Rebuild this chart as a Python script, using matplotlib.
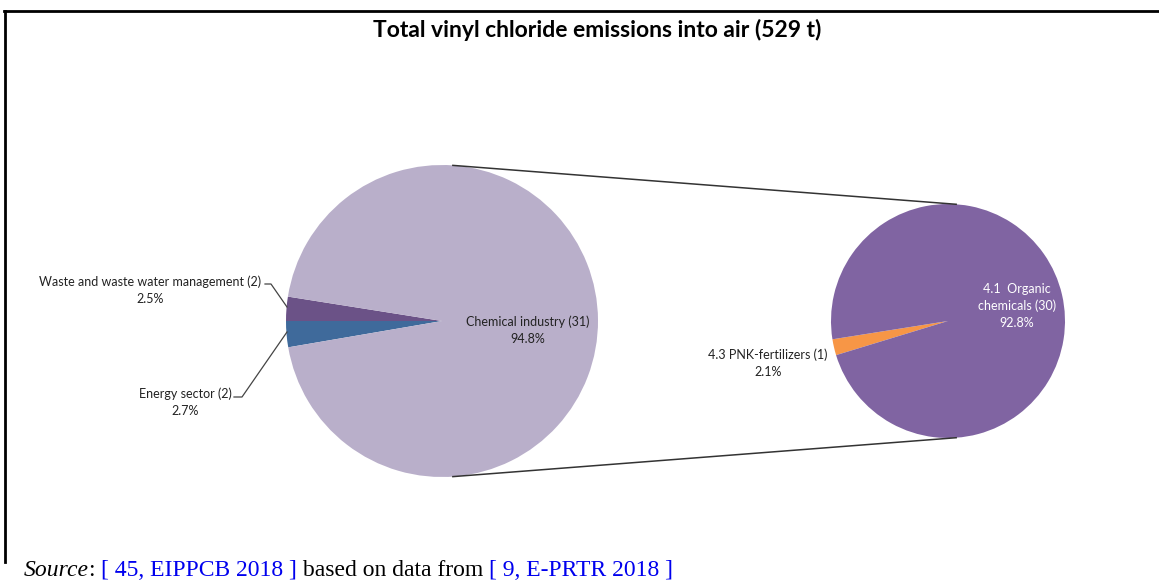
import numpy as np
import matplotlib.pyplot as plt
from matplotlib.lines import Line2D

plt.rcParams['font.family'] = ['Lato', 'DejaVu Sans']

# left pie: total emissions by sector (share of 529 t)
left_labels = ["Waste and waste water management (2)", "Energy sector (2)", "Chemical industry (31)"]
left_pct = [2.5, 2.7, 94.8]
left_colors = ["#6B5287", "#3F6A9B", "#B9AFCA"]

# right pie: breakdown of chemical industry
right_labels = ["4.3 PNK-fertilizers (1)", "4.1  Organic\nchemicals (30)"]
right_pct = [2.1, 92.8]
right_colors = ["#F79646", "#8064A2"]

W, H = 1159, 582
fig = plt.figure(figsize=(W / 100, H / 100), dpi=100)
ax = fig.add_axes([0, 0, 1, 1])

lc, lr = (442, 261), 156
rc, rr = (948, 261), 117

ax.pie(left_pct, colors=left_colors, startangle=171, counterclock=True,
       center=lc, radius=lr, wedgeprops=dict(linewidth=0), frame=True)
ax.pie(right_pct, colors=right_colors, startangle=189, counterclock=True,
       center=rc, radius=rr, wedgeprops=dict(linewidth=0), frame=True)
ax.set_xlim(0, W); ax.set_ylim(0, H)
ax.set_aspect("equal"); ax.axis("off")

# connector lines between the pies
for a in (86, -86):
    t = np.radians(a)
    ax.plot([lc[0] + lr*np.cos(t), rc[0] + rr*np.cos(t)],
            [lc[1] + lr*np.sin(t), rc[1] + rr*np.sin(t)], color="#333333", lw=1.1)

fs = 9
ax.text(150, H - 290, left_labels[0] + "\n" + f"{left_pct[0]}%", ha="center", va="center",
        fontsize=fs, color="#222222", linespacing=1.45)
ax.plot([265, 271, 287], [H - 284, H - 284, H - 307], color="#444444", lw=0.9)
ax.text(185, H - 402, left_labels[1] + "\n" + f"{left_pct[1]}%", ha="center", va="center",
        fontsize=fs, color="#222222", linespacing=1.45)
ax.plot([234, 242, 287], [H - 397, H - 397, H - 332], color="#444444", lw=0.9)
ax.text(528, H - 330, left_labels[2] + "\n" + f"{left_pct[2]}%", ha="center", va="center",
        fontsize=fs, color="#222222", linespacing=1.45)

ax.text(1017, H - 306, right_labels[1] + "\n" + f"{right_pct[1]}%", ha="center", va="center",
        fontsize=fs, color="white", linespacing=1.45)
ax.text(768, H - 363, right_labels[0] + "\n" + f"{right_pct[0]}%", ha="center", va="center",
        fontsize=fs, color="#222222", linespacing=1.45)

fig.text(597 / W, 1 - 30 / H, "Total vinyl chloride emissions into air (529 t)",
         ha="center", va="center", fontsize=16.5, fontweight="bold")

# frame (top and left edges)
fig.add_artist(Line2D([4 / W, 1], [1 - 11 / H, 1 - 11 / H], color="black", lw=2))
fig.add_artist(Line2D([5 / W, 5 / W], [1 - 11 / H, 1 - 562 / H], color="black", lw=2))

# source line
serif = "Liberation Serif"
sfs = 17
t1 = fig.text(24 / W, 6 / H, "Source", fontsize=sfs, family=serif, style="italic", va="baseline")
t2 = ax.annotate(": ", xy=(1, 0), xycoords=t1, va="bottom", fontsize=sfs, family=serif)
t3 = ax.annotate("[ 45, EIPPCB 2018 ]", xy=(1, 0), xycoords=t2, va="bottom", fontsize=sfs,
                 family=serif, color="#0000EE")
t4 = ax.annotate(" based on data from ", xy=(1, 0), xycoords=t3, va="bottom", fontsize=sfs, family=serif)
t5 = ax.annotate("[ 9, E-PRTR 2018 ]", xy=(1, 0), xycoords=t4, va="bottom", fontsize=sfs,
                 family=serif, color="#0000EE")

fig.savefig("out.png", dpi=100)
